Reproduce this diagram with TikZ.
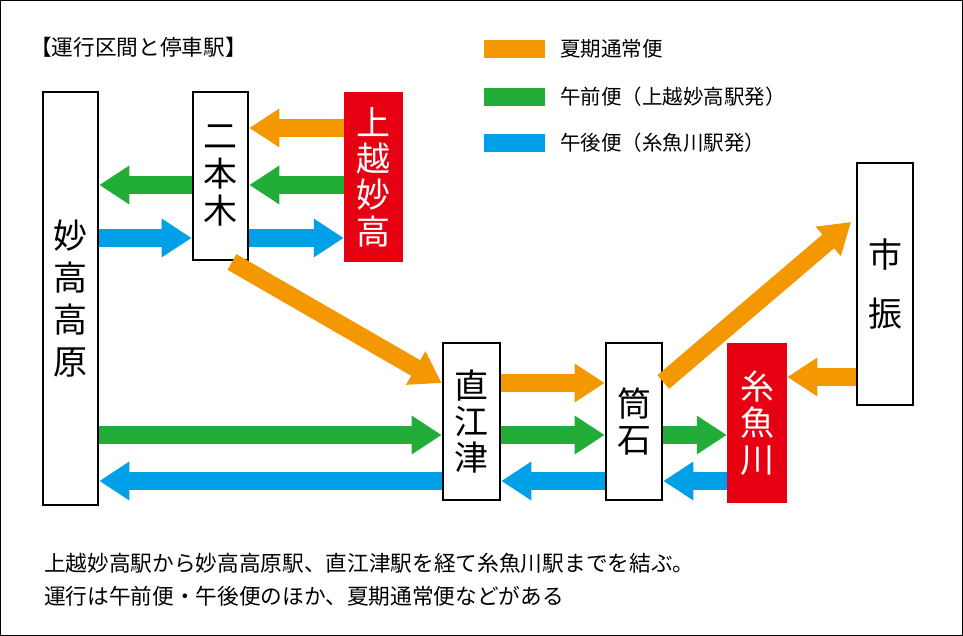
\documentclass[tikz,border=0pt]{standalone}
\usepackage{fontspec}
\setmainfont{Noto Sans CJK JP}
\usetikzlibrary{arrows.meta}
\definecolor{korange}{HTML}{F39800}
\definecolor{kgreen}{HTML}{22AC38}
\definecolor{kblue}{HTML}{00A0E9}
\definecolor{kred}{HTML}{E60012}
\tikzset{
  stn/.style={draw,line width=2.2pt,fill=white,inner sep=0pt,align=center,
    font=\fontsize{29}{#1}\selectfont},
  redstn/.style={fill=kred,text=white,inner sep=0pt,align=center,
    font=\fontsize{29}{#1}\selectfont},
  run/.style={line width=0.54cm,draw=#1,-{Triangle[length=0.9cm,width=1.1cm]},#1},
  bar/.style={fill=#1,draw=none}
}
\begin{document}
\begin{tikzpicture}[x=0.03cm,y=-0.03cm]
  \draw[line width=0.8pt] (0.5,0.5) rectangle (962.5,635.5);
  % title and legend
  \node[anchor=west,font=\fontsize{18.5}{20}\selectfont] (title) at (26,47) {【運行区間と停車駅】};
  \fill[bar=korange] (484,40) rectangle (545,58);
  \fill[bar=kgreen] (484,88) rectangle (545,106);
  \fill[bar=kblue] (484,134) rectangle (545,152);
  \node[anchor=west,font=\fontsize{17.5}{20}\selectfont] (lgo) at (556,49) {夏期通常便};
  \node[anchor=west,font=\fontsize{17.5}{20}\selectfont] (lgg) at (556,97) {午前便（上越妙高駅発）};
  \node[anchor=west,font=\fontsize{17.5}{20}\selectfont] (lgb) at (556,143) {午後便（糸魚川駅発）};
  % stations
  \node[stn=36,minimum width=55*0.03cm,minimum height=413*0.03cm] (myoko) at (70.5,298.5) {妙\\高\\高\\原};
  \node[stn=32,minimum width=55*0.03cm,minimum height=168*0.03cm] (nihongi) at (220.5,176) {二\\本\\木};
  \node[redstn=31,minimum width=59*0.03cm,minimum height=170*0.03cm] (joetsu) at (373.5,177) {上\\越\\妙\\高};
  \node[stn=31,minimum width=57*0.03cm,minimum height=157*0.03cm] (naoetsu) at (471.5,421.5) {直\\江\\津};
  \node[stn=31,minimum width=56*0.03cm,minimum height=157*0.03cm] (tsutsu) at (634,421.5) {筒\\石};
  \node[redstn=31,minimum width=60*0.03cm,minimum height=160*0.03cm] (itoi) at (757,423) {糸\\魚\\川};
  \node[stn=50,minimum width=56*0.03cm,minimum height=242*0.03cm] (ichi) at (885,284) {市\\振};
  % orange
  \draw[run=korange] (joetsu.west |- 0,128) -- (nihongi.east |- 0,128);
  \draw[run=korange] (232,262) -- (naoetsu.west |- 0,383);
  \draw[run=korange] (naoetsu.east |- 0,383) -- (tsutsu.west |- 0,383);
  \draw[run=korange] (tsutsu.east |- 0,382) -- (851,222);
  \draw[run=korange] (ichi.west |- 0,377) -- (itoi.east |- 0,377);
  % green
  \draw[run=kgreen] (joetsu.west |- 0,185) -- (nihongi.east |- 0,185);
  \draw[run=kgreen] (nihongi.west |- 0,185) -- (myoko.east |- 0,185);
  \draw[run=kgreen] (myoko.east |- 0,435) -- (naoetsu.west |- 0,435);
  \draw[run=kgreen] (naoetsu.east |- 0,435) -- (tsutsu.west |- 0,435);
  \draw[run=kgreen] (tsutsu.east |- 0,435) -- (itoi.west |- 0,435);
  % blue
  \draw[run=kblue] (myoko.east |- 0,238) -- (nihongi.west |- 0,238);
  \draw[run=kblue] (nihongi.east |- 0,238) -- (joetsu.west |- 0,238);
  \draw[run=kblue] (itoi.west |- 0,481) -- (tsutsu.east |- 0,481);
  \draw[run=kblue] (tsutsu.west |- 0,481) -- (naoetsu.east |- 0,481);
  \draw[run=kblue] (naoetsu.west |- 0,481) -- (myoko.east |- 0,481);
  % notes
  \node[anchor=west,font=\fontsize{18.5}{20}\selectfont] (note1) at (40,563) {上越妙高駅から妙高高原駅、直江津駅を経て糸魚川駅までを結ぶ。};
  \node[anchor=west,font=\fontsize{18.5}{20}\selectfont] (note2) at (40,596) {運行は午前便・午後便のほか、夏期通常便などがある};
\end{tikzpicture}
\end{document}
